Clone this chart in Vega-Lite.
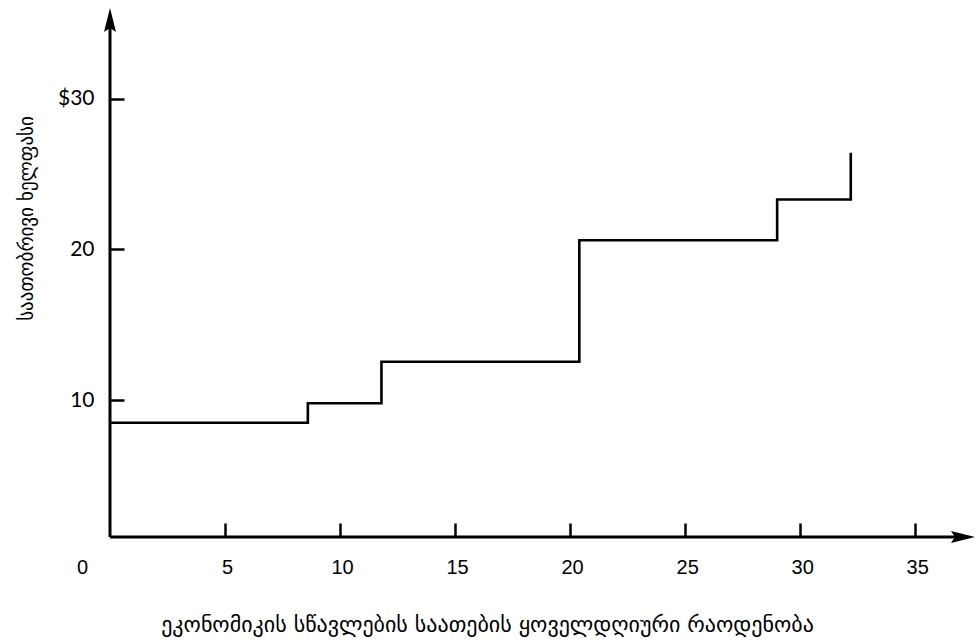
{
  "$schema": "https://vega.github.io/schema/vega-lite/v6.json",
  "autosize": {"type": "none"},
  "padding": {"left": 110, "top": 8, "right": 1, "bottom": 107},
  "width": 865,
  "height": 529,
  "background": "white",
  "config": {"view": {"stroke": null}},
  "datasets": {
    "wage": [
      {"hours": 0, "wage": 8.5},
      {"hours": 8.6, "wage": 9.8},
      {"hours": 11.8, "wage": 12.55},
      {"hours": 20.4, "wage": 20.6},
      {"hours": 29.0, "wage": 23.3},
      {"hours": 32.2, "wage": 26.4}
    ],
    "axisLines": [
      {"hours": 0, "wage": 0.93, "hours2": 36.75, "wage2": 0.93},
      {"hours": 0, "wage": 0.93, "hours2": 0, "wage2": 34.7}
    ],
    "arrowX": [{"hours": 37.6, "wage": 0.93}],
    "arrowY": [{"hours": 0, "wage": 36.0}]
  },
  "encoding": {
    "x": {
      "field": "hours",
      "type": "quantitative",
      "scale": {"domain": [0, 37.6], "nice": false, "zero": false},
      "axis": {
        "values": [0, 5, 10, 15, 20, 25, 30, 35],
        "domain": false,
        "grid": false,
        "tickSize": -14,
        "tickWidth": 2.5,
        "tickColor": "black",
        "tickOpacity": {"condition": {"test": "datum.value == 0", "value": 0}, "value": 1},
        "labelFont": "Liberation Sans",
        "labelFontSize": 20,
        "labelColor": "black",
        "labelPadding": 34,
        "labelFlush": false,
        "labelOffset": {"condition": {"test": "datum.value == 0", "value": -28}, "value": 2},
        "title": "ეკონომიკის სწავლების საათების ყოველდღიური რაოდენობა",
        "titleFont": "DejaVu Sans",
        "titleFontSize": 22,
        "titleFontWeight": "normal",
        "titleColor": "black",
        "titleX": 377,
        "titleY": 87,
        "titleBaseline": "middle",
        "titleAlign": "center"
      }
    },
    "y": {
      "field": "wage",
      "type": "quantitative",
      "scale": {"domain": [0.93, 36.0], "nice": false, "zero": false},
      "axis": {
        "values": [10, 20, 30],
        "domain": false,
        "grid": false,
        "tickSize": -14,
        "tickWidth": 2.5,
        "tickColor": "black",
        "labelFont": "Lato",
        "labelFontSize": 21,
        "labelColor": "black",
        "labelPadding": 30,
        "labelBaseline": "middle",
        "labelExpr": "datum.value == 30 ? '$30' : datum.label",
        "title": "საათობრივი ხელფასი",
        "titleFont": "DejaVu Sans",
        "titleFontSize": 19,
        "titleFontWeight": "normal",
        "titleColor": "black",
        "titleAngle": 270,
        "titleX": -84,
        "titleY": 210,
        "titleBaseline": "middle",
        "titleAlign": "center"
      }
    }
  },
  "layer": [
    {
      "data": {"name": "axisLines"},
      "mark": {"type": "rule", "color": "black", "strokeWidth": 3},
      "encoding": {
        "x2": {"field": "hours2"},
        "y2": {"field": "wage2"}
      }
    },
    {
      "data": {"name": "wage"},
      "mark": {"type": "line", "interpolate": "step-after", "color": "black", "strokeWidth": 2.6}
    },
    {
      "data": {"name": "arrowX"},
      "mark": {"type": "point", "filled": true, "color": "black", "opacity": 1, "size": 576,
               "shape": "M0,0 L-2,-0.5 L-1.67,0 L-2,0.5 Z"}
    },
    {
      "data": {"name": "arrowY"},
      "mark": {"type": "point", "filled": true, "color": "black", "opacity": 1, "size": 576,
               "shape": "M0,0 L-0.5,2 L0,1.67 L0.5,2 Z"}
    }
  ]
}
